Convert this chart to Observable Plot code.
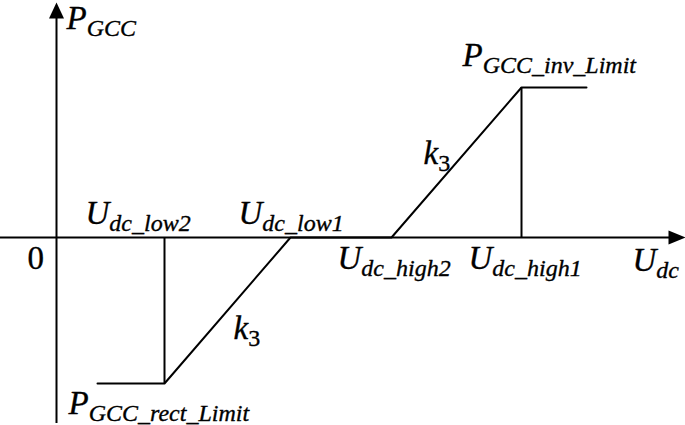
<!DOCTYPE html>
<html>
<head>
<meta charset="utf-8">
<script src="https://cdn.jsdelivr.net/npm/d3@7"></script>
<script src="https://cdn.jsdelivr.net/npm/@observablehq/plot@0.6"></script>
<style>
  html, body { margin: 0; padding: 0; background: #fff; }
  svg { display: block; }
  svg text, svg tspan { font-family: "Liberation Serif", "Times New Roman", serif !important; }
</style>
</head>
<body>
<div id="chart"></div>
<script>
// Characteristic curve (U_dc vs P_GCC)
const curveU = [0.41, 1.08, 2.34, 3.35, 4.65, 5.30];
const curveP = [-1.46, -1.46, 0, 0, 1.50, 1.50];
// Threshold voltages on the U_dc axis
const uNames = ["U|dc_low2", "U|dc_low1", "U|dc_high2", "U|dc_high1"];
const uValues = [1.08, 2.34, 3.35, 4.65];
// Power limits
const pNames = ["P|GCC_rect_Limit", "P|GCC_inv_Limit"];
const pValues = [-1.46, 1.50];
const pAtU = [0.41, 4.65];
// Axes extents
const axisU = [-0.56, 6.29];
const axisP = [-1.86, 2.35];
const axisNames = ["U|dc", "P|GCC", "0"];
const slopeName = "k|3";

const curve = curveU.map((u, i) => ({u, p: curveP[i]}));
const font = '"Liberation Serif", "Times New Roman", serif';

const arrowUp = { draw(ctx) { ctx.moveTo(0, 0); ctx.lineTo(-7.5, 16); ctx.lineTo(7.5, 16); ctx.closePath(); } };
const arrowRight = { draw(ctx) { ctx.moveTo(0, 0); ctx.lineTo(-17, -7); ctx.lineTo(-17, 7); ctx.closePath(); } };

function label(text, x, y, dx, dy, style = "italic") {
  return Plot.text([{text, x, y}], {
    x: "x", y: "y", text: "text", dx, dy,
    textAnchor: "start", lineAnchor: "bottom",
    fontFamily: font, fontSize: 33, fontStyle: style, fill: "black",
    stroke: "black", strokeWidth: 0.35
  });
}

const plot = Plot.plot({
  width: 685, height: 425, margin: 0,
  style: {fontFamily: font},
  x: {domain: [-0.56, 6.29], axis: null},
  y: {domain: [-1.88, 2.37], axis: null},
  marks: [
    // axes
    Plot.ruleY([0], {x1: axisU[0], x2: axisU[1] - 0.1, stroke: "black", strokeWidth: 2}),
    Plot.ruleX([0], {y1: axisP[0], y2: axisP[1] - 0.1, stroke: "black", strokeWidth: 2}),
    Plot.dot([{u: axisU[1], p: 0}], {x: "u", y: "p", symbol: arrowRight, fill: "black", stroke: "none"}),
    Plot.dot([{u: 0, p: axisP[1]}], {x: "u", y: "p", symbol: arrowUp, fill: "black", stroke: "none"}),
    // characteristic
    Plot.line(curve, {x: "u", y: "p", stroke: "black", strokeWidth: 2}),
    Plot.ruleX([uValues[0]], {y1: 0, y2: pValues[0], stroke: "black", strokeWidth: 2}),
    Plot.ruleX([uValues[3]], {y1: 0, y2: pValues[1], stroke: "black", strokeWidth: 2}),
    // labels
    label(axisNames[1], 0, axisP[1], 10, 26),
    label(axisNames[0], axisU[1], 0, -53, 33),
    label(axisNames[2], 0, 0, -29, 31, "normal"),
    label(uNames[0], uValues[0], 0, -79, -14),
    label(uNames[1], uValues[1], 0, -52, -14),
    label(uNames[2], uValues[2], 0, -54, 31),
    label(uNames[3], uValues[3], 0, -53, 31),
    label(pNames[0], pAtU[0], pValues[0], -29, 30),
    label(pNames[1], pAtU[1], pValues[1], -59, -22),
    label(slopeName, (uValues[2] + uValues[3]) / 2, pValues[1] / 2, -33, 1),
    label(slopeName, (uValues[0] + uValues[1]) / 2, pValues[0] / 2, 6, 28)
  ]
});

// turn "Main|sub" into main text + subscript tspan
plot.querySelectorAll("text").forEach(t => {
  const s = t.textContent;
  if (!s.includes("|")) return;
  const [main, sub] = s.split("|");
  t.textContent = "";
  const ns = "http://www.w3.org/2000/svg";
  const a = document.createElementNS(ns, "tspan");
  a.textContent = main;
  const b = document.createElementNS(ns, "tspan");
  b.textContent = sub;
  b.setAttribute("font-size", 24);
  b.setAttribute("dy", 7);
  if (/^\d+$/.test(sub)) b.setAttribute("font-style", "normal");
  t.appendChild(a);
  t.appendChild(b);
});

document.getElementById("chart").appendChild(plot);
</script>
</body>
</html>
